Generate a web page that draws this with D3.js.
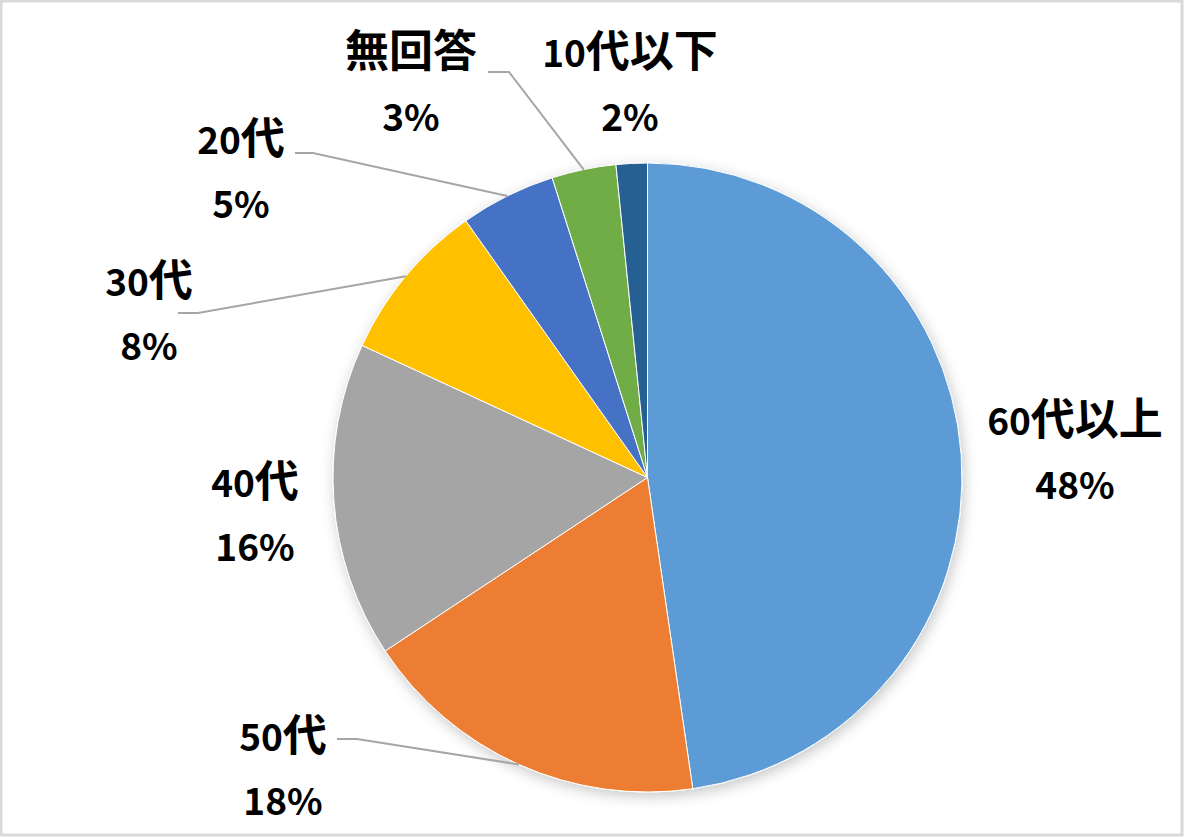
<!DOCTYPE html>
<html>
<head>
<meta charset="utf-8">
<script src="https://cdn.jsdelivr.net/npm/d3@7"></script>
<style>
  body { margin: 0; background: #fff; }
  svg text { font-family: "Noto Sans CJK JP", "Noto Sans", sans-serif; font-weight: bold; }
</style>
</head>
<body>
<div id="chart"></div>
<script>
// data (clockwise from 12 o'clock)
var categories = ["60代以上", "50代", "40代", "30代", "20代", "無回答", "10代以下"];
var values = [47.7, 18.0, 16.2, 8.3, 4.9, 3.3, 1.6];
var colors = ["#5B9BD5", "#ED7D31", "#A5A5A5", "#FFC000", "#4472C4", "#70AD47", "#255E91"];

// label layout: centre x, first baseline, and start of leader line (if any)
var labelPos = [
    {x: 1075, y: 435, lead: null},
    {x: 283, y: 751, lead: [337, 739, 357]},
    {x: 255, y: 497, lead: null},
    {x: 149, y: 296, lead: [178, 313, 198]},
    {x: 241, y: 154, lead: [295, 153, 313]},
    {x: 411, y: 67, lead: [488, 72, 509]},
    {x: 630, y: 67, lead: null}
];

var width = 1184, height = 837;
var cx = 647.5, cy = 477.5, radius = 314.5;
var digitSize = 37, kanjiSize = 44;

var svg = d3.select("#chart").append("svg")
    .attr("width", width)
    .attr("height", height);

var defs = svg.append("defs");
var filter = defs.append("filter")
    .attr("id", "shadow")
    .attr("x", "-10%").attr("y", "-10%")
    .attr("width", "120%").attr("height", "120%");
filter.append("feDropShadow")
    .attr("dx", 2).attr("dy", 4)
    .attr("stdDeviation", 7)
    .attr("flood-color", "#000")
    .attr("flood-opacity", 0.22);

// chart border
svg.append("rect")
    .attr("x", 1).attr("y", 1)
    .attr("width", width - 3).attr("height", height - 3)
    .attr("fill", "#fff")
    .attr("stroke", "#D9D9D9")
    .attr("stroke-width", 3);

var total = d3.sum(values);
var pie = d3.pie().sort(null).value(function(d) { return d; });
var arcs = pie(values);

var arc = d3.arc().innerRadius(0).outerRadius(radius);

var g = svg.append("g")
    .attr("transform", "translate(" + cx + "," + cy + ")");

g.append("g")
    .attr("filter", "url(#shadow)")
    .selectAll("path")
    .data(arcs)
    .enter().append("path")
    .attr("d", arc)
    .attr("fill", function(d, i) { return colors[i]; })
    .attr("stroke", "#fff")
    .attr("stroke-width", 1);

// leader lines
arcs.forEach(function(d, i) {
    var p = labelPos[i];
    if (!p.lead) return;
    var mid = (d.startAngle + d.endAngle) / 2;
    var ex = cx + radius * Math.sin(mid);
    var ey = cy - radius * Math.cos(mid);
    svg.append("polyline")
        .attr("points", p.lead[0] + "," + p.lead[1] + " " + p.lead[2] + "," + p.lead[1] + " " + ex + "," + ey)
        .attr("fill", "none")
        .attr("stroke", "#A6A6A6")
        .attr("stroke-width", 2);
});

// labels: digits and kanji are set at different sizes, as in the original
function addRuns(text, str, x, y) {
    var runs = str.match(/[0-9%]+|[^0-9%]+/g);
    runs.forEach(function(r, k) {
        var t = text.append("tspan")
            .attr("font-size", /[0-9%]/.test(r) ? digitSize : kanjiSize)
            .text(r);
        if (k == 0) t.attr("x", x).attr("y", y);
    });
}

arcs.forEach(function(d, i) {
    var p = labelPos[i];
    var pct = Math.round(d.value / total * 100) + "%";
    var t1 = svg.append("text").attr("text-anchor", "middle").attr("fill", "#000");
    addRuns(t1, categories[i], p.x, p.y);
    var t2 = svg.append("text").attr("text-anchor", "middle").attr("fill", "#000");
    addRuns(t2, pct, p.x, p.y + 64);
});
</script>
</body>
</html>
